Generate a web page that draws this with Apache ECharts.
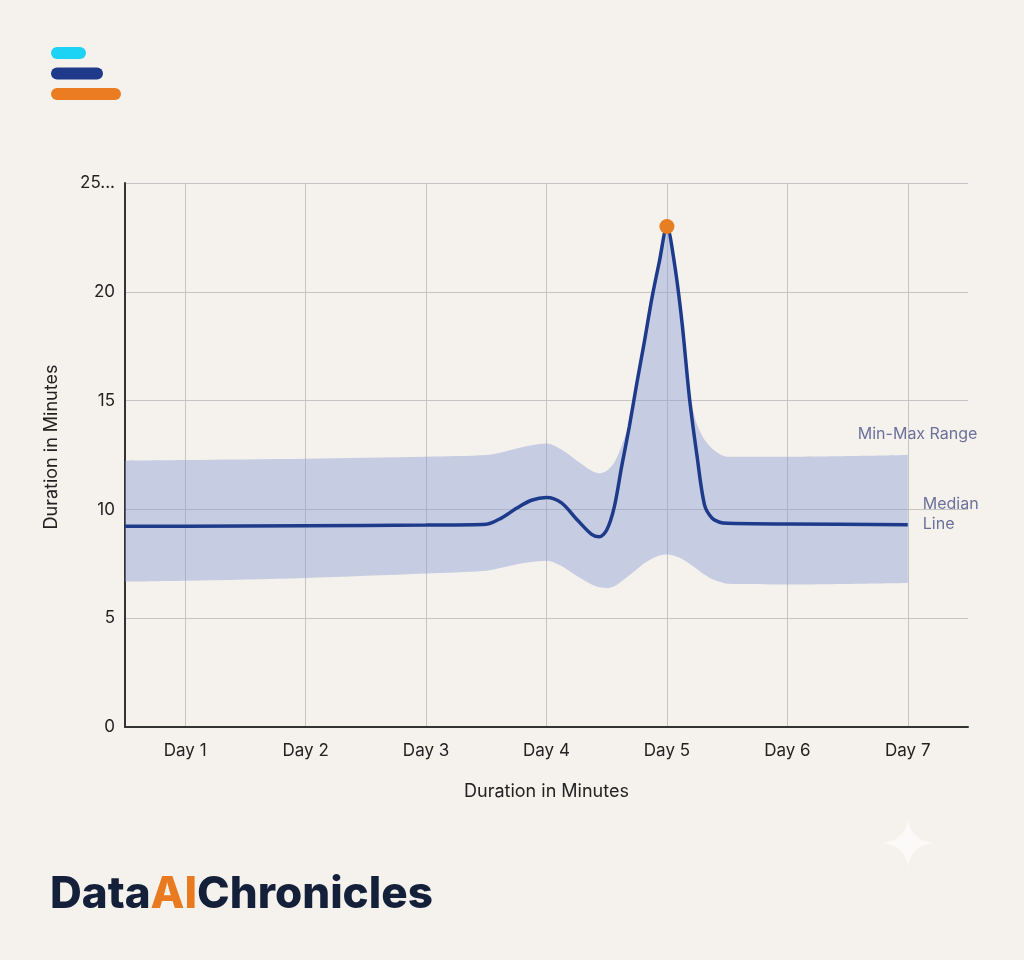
<!DOCTYPE html>
<html><head><meta charset="utf-8">
<script src="https://cdn.jsdelivr.net/npm/echarts@6/dist/echarts.min.js"></script>
<style>html,body{margin:0;padding:0;background:#f5f2ed;} #c{width:1024px;height:960px;}</style>
</head><body><div id="c"></div>
<script>
// ---- data ----
const dayLabels = ['Day 1', 'Day 2', 'Day 3', 'Day 4', 'Day 5', 'Day 6', 'Day 7'];
const yTickMax = 25;
const sampleX = [0.5, 1, 2, 3, 3.5, 3.625, 3.75, 3.875, 4, 4.125, 4.25, 4.375,
  4.4375, 4.5, 4.5625, 4.625, 4.6875, 4.75, 4.8125, 4.875, 4.9375, 5,
  5.0625, 5.125, 5.1875, 5.25, 5.3125, 5.375, 5.4375, 5.5, 6, 7];
const medianY = [9.22, 9.23, 9.25, 9.28, 9.32, 9.6, 10.05, 10.42, 10.55, 10.3, 9.55, 8.85,
  8.74, 9.05, 10.1, 12.0, 13.8, 15.8, 17.7, 19.7, 21.4, 23,
  21.3, 18.6, 15.1, 12.45, 10.2, 9.6, 9.41, 9.36, 9.33, 9.3];
const bandMin = [6.68, 6.72, 6.85, 7.05, 7.18, 7.32, 7.47, 7.58, 7.64, 7.4, 6.95, 6.55,
  6.42, 6.38, 6.47, 6.7, 6.97, 7.25, 7.52, 7.73, 7.88, 7.93,
  7.87, 7.72, 7.5, 7.25, 7.0, 6.8, 6.67, 6.58, 6.55, 6.62];
const bandMax = [12.24, 12.27, 12.33, 12.42, 12.5, 12.62, 12.8, 12.95, 13.03, 12.75, 12.25, 11.78,
  11.66, 11.78, 12.15, 12.95, 14.0, 16.0, 17.9, 19.9, 21.6, 23,
  21.5, 18.8, 15.4, 13.9, 13.2, 12.8, 12.55, 12.42, 12.42, 12.5];
const peakPoint = [5, 23];

const font = 'Inter, "Noto Sans", sans-serif';
const navy = '#1e3a8a';
const smoothness = 0.3;

// band rows are [value, day] so the stacked dimension is the value (encode maps day to x)
const lowerData = sampleX.map((x, i) => [bandMin[i], x]);
const spanData = sampleX.map((x, i) => [+(bandMax[i] - bandMin[i]).toFixed(3), x]);
const medianData = sampleX.map((x, i) => [x, medianY[i]]);

// decorative sparkle outline (concave four-point star)
function sparklePoints(cx, cy, rx, ry) {
  const pts = [];
  const tips = [[0, -ry], [rx, 0], [0, ry], [-rx, 0], [0, -ry]];
  for (let k = 0; k < 4; k++) {
    const a = tips[k], b = tips[k + 1];
    for (let t = 0; t <= 1.0001; t += 0.1) {
      const c = [(a[0] + b[0]) * 0.12, (a[1] + b[1]) * 0.12];
      const x = (1 - t) * (1 - t) * a[0] + 2 * (1 - t) * t * c[0] + t * t * b[0];
      const y = (1 - t) * (1 - t) * a[1] + 2 * (1 - t) * t * c[1] + t * t * b[1];
      pts.push([cx + x, cy + y]);
    }
  }
  return pts;
}

const chart = echarts.init(document.getElementById('c'), null, { renderer: 'canvas' });
chart.setOption({
  backgroundColor: '#f5f2ed',
  animation: false,
  textStyle: { fontFamily: font },
  grid: { left: 125, right: 56, top: 183, bottom: 233, containLabel: false },
  xAxis: {
    type: 'value', min: 0.5, max: 7.5, splitNumber: 7,
    name: 'Duration in Minutes', nameLocation: 'middle', nameGap: 56,
    nameTextStyle: { fontSize: 18, color: '#222', fontFamily: font },
    axisLine: { show: true, onZero: false, lineStyle: { color: '#333', width: 2 } },
    axisTick: { show: false },
    axisLabel: {
      fontSize: 17, color: '#222', margin: 15, showMinLabel: false, showMaxLabel: false,
      formatter: v => Math.abs(v - Math.round(v)) < 1e-6 ? (dayLabels[Math.round(v) - 1] || '') : ''
    },
    splitLine: { show: true, showMinLine: false, showMaxLine: false, lineStyle: { color: '#c4c4c4', width: 1 } }
  },
  yAxis: {
    type: 'value', min: 0, max: yTickMax, interval: 5,
    name: 'Duration in Minutes', nameLocation: 'middle', nameGap: 64,
    nameTextStyle: { fontSize: 18, color: '#222', fontFamily: font, padding: [0, 0, 0, 16] },
    axisLine: { show: true, lineStyle: { color: '#333', width: 2 } },
    axisTick: { show: false },
    axisLabel: { fontSize: 17, color: '#222', margin: 10, formatter: v => v === yTickMax ? yTickMax + '...' : v },
    splitLine: { show: true, lineStyle: { color: '#c4c4c4', width: 1 } }
  },
  series: [
    {
      name: 'Min', type: 'line', data: lowerData, encode: { x: 1, y: 0 }, stack: 'band', smooth: smoothness,
      symbol: 'none', lineStyle: { opacity: 0 }, silent: true, z: 1
    },
    {
      name: 'Min-Max Range', type: 'line', data: spanData, encode: { x: 1, y: 0 }, stack: 'band', smooth: smoothness,
      symbol: 'none', lineStyle: { opacity: 0 }, areaStyle: { color: 'rgba(133,156,211,0.42)', opacity: 1 }, silent: true, z: 1,
      endLabel: { show: true, formatter: 'Min-Max Range', color: '#6c7199', fontSize: 16, fontFamily: font, offset: [-58, -21] }
    },
    {
      name: 'Median Line', type: 'line', data: medianData, smooth: smoothness,
      symbol: 'none', lineStyle: { color: navy, width: 3.5 }, z: 3,
      endLabel: { show: true, formatter: 'Median\nLine', color: '#6c7199', fontSize: 16, lineHeight: 20, fontFamily: font, offset: [7, -10] }
    },
    {
      name: 'Peak', type: 'scatter', data: [peakPoint], symbolSize: 15,
      itemStyle: { color: '#e67e22', opacity: 1 }, z: 5
    }
  ],
  graphic: [
    { type: 'rect', shape: { x: 51, y: 47, width: 35, height: 12, r: 6 }, style: { fill: '#1dd3f5' } },
    { type: 'rect', shape: { x: 51, y: 67.5, width: 52, height: 12, r: 6 }, style: { fill: '#1f3a8a' } },
    { type: 'rect', shape: { x: 51, y: 88, width: 70, height: 12, r: 6 }, style: { fill: '#ec7c22' } },
    {
      type: 'text', x: 50, y: 873,
      style: {
        text: '{a|Data}{b|AI}{a|Chronicles}',
        rich: {
          a: { fontSize: 44, fontWeight: 800, fill: '#14203a', fontFamily: font },
          b: { fontSize: 44, fontWeight: 800, fill: '#ea7a20', fontFamily: font }
        }
      }
    },
    {
      type: 'polygon',
      shape: { points: sparklePoints(908, 843, 25, 24) },
      style: { fill: '#ffffff', opacity: 0.6 }
    }
  ]
});
</script></body></html>
